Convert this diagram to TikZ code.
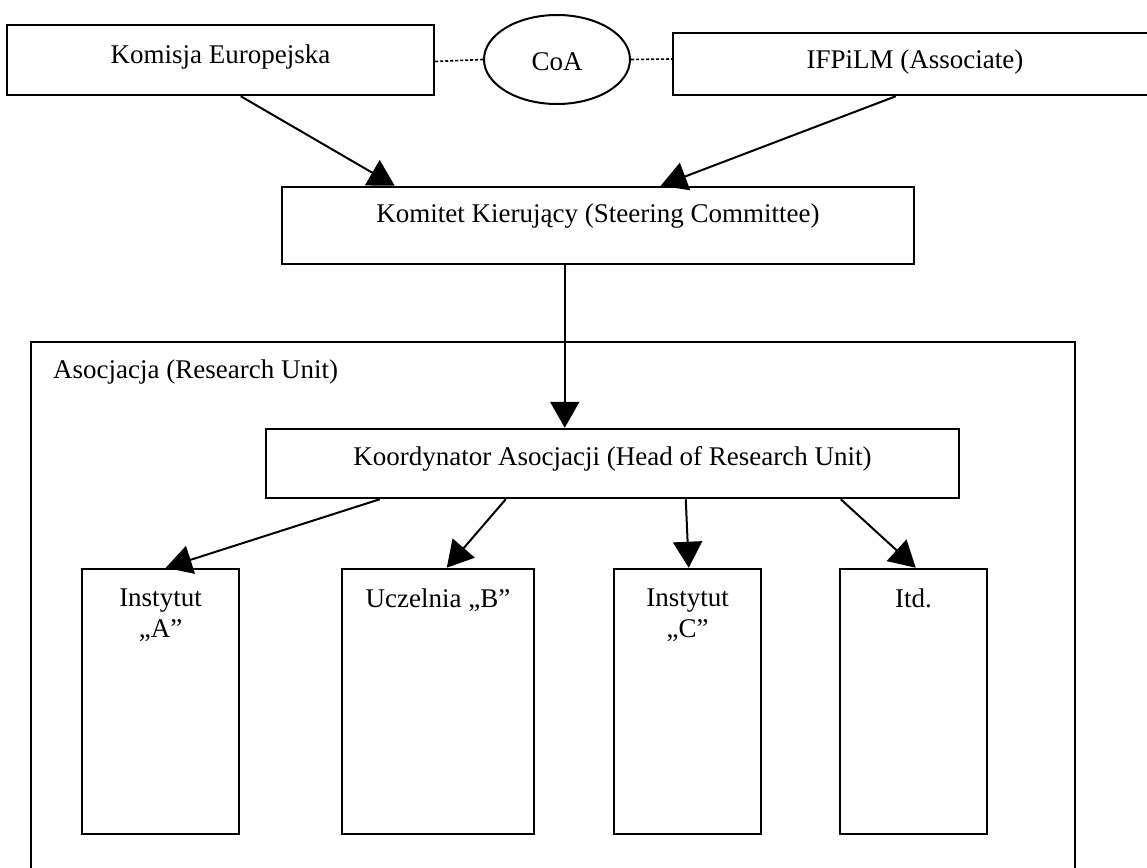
\documentclass[tikz,border=0pt]{standalone}
\usepackage{fontspec}
\setmainfont{Liberation Serif}
\usetikzlibrary{arrows.meta,shapes.geometric}
\begin{document}
\begin{tikzpicture}[x=1pt,y=-1pt,
  box/.style={draw, line width=2.5pt, rectangle, inner sep=0pt},
  lbl/.style={font=\fontsize{27}{31}\selectfont, inner sep=0pt, align=center},
  arr/.style={line width=2pt, -{Triangle[length=26pt,width=29pt]}},
  dots/.style={line width=1.6pt, dash pattern=on 3pt off 2pt}]
\useasboundingbox (0,0) rectangle (1147,867);
\clip (0,0) rectangle (1147,867);
\fill[white] (0,0) rectangle (1147,867);
% top row
\node[box, minimum width=427pt, minimum height=70pt] (kom) at (220.5,60) {};
\node[lbl] (komt) at ([yshift=3pt]kom.center) {Komisja Europejska};
\node[draw, ellipse, line width=2pt, minimum width=146pt, minimum height=89pt, inner sep=0pt] (coa) at (557,59.5) {};
\node[lbl] (coat) at ([yshift=-2pt]coa.center) {CoA};
\node[box, minimum width=487pt, minimum height=62pt] (ifp) at (916.5,64) {};
\node[lbl] (ifpt) at ([xshift=-1.5pt,yshift=2pt]ifp.center) {IFPiLM (Associate)};
\draw[dots] ([yshift=-1.5pt]kom.east) -- (coa.west);
\draw[dots] (coa.east) -- ([yshift=5pt]ifp.west);
% steering committee
\node[box, minimum width=632pt, minimum height=77pt] (sc) at (598,225.5) {};
\node[lbl] (sct) at ([yshift=9pt]sc.center) {Komitet Kierujący (Steering Committee)};
\draw[arr] ([xshift=235pt]kom.south west) -- ([xshift=114pt]sc.north west);
\draw[arr] ([xshift=224pt]ifp.south west) -- ([xshift=380pt]sc.north west);
% research unit
\node[box, minimum width=1044pt, minimum height=578pt] (asoc) at (553,631) {};
\node[lbl, anchor=base west] (asoct) at (53,378) {Asocjacja (Research Unit)};
\node[box, minimum width=693pt, minimum height=69pt] (koord) at (612.5,463.5) {};
\node[lbl] (koordt) at ([yshift=5pt]koord.center) {Koordynator Asocjacji (Head of Research Unit)};
\draw[arr] ([xshift=284pt]sc.south west) -- ([xshift=300pt]koord.north west);
% units
\node[box, minimum width=157pt, minimum height=265pt] (ia) at (160.5,701.5) {};
\node[box, minimum width=192pt, minimum height=265pt] (ub) at (438,701.5) {};
\node[box, minimum width=147pt, minimum height=265pt] (ic) at (687.5,701.5) {};
\node[box, minimum width=147pt, minimum height=265pt] (itd) at (913.5,701.5) {};
\node[lbl, anchor=north] (iat) at ([yshift=-21pt]ia.north) {Instytut\\„A”};
\node[lbl, anchor=north] (ubt) at ([yshift=-21pt]ub.north) {Uczelnia „B”};
\node[lbl, anchor=north] (ict) at ([yshift=-21pt]ic.north) {Instytut\\„C”};
\node[lbl, anchor=north] (itdt) at ([yshift=-21pt]itd.north) {Itd.};
\draw[arr] ([xshift=115pt]koord.south west) -- ([xshift=85pt]ia.north west);
\draw[arr] ([xshift=241pt]koord.south west) -- ([xshift=106pt]ub.north west);
\draw[arr] ([xshift=421pt]koord.south west) -- ([xshift=76pt]ic.north west);
\draw[arr] ([xshift=576pt]koord.south west) -- ([xshift=77pt]itd.north west);
\end{tikzpicture}
\end{document}
